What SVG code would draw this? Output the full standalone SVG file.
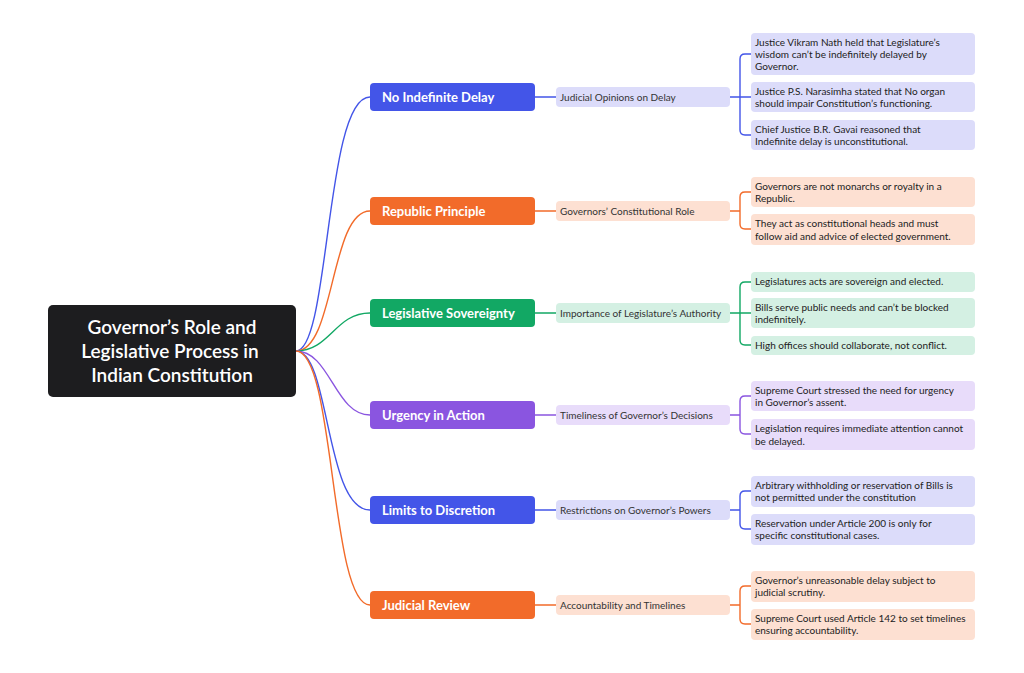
<svg xmlns="http://www.w3.org/2000/svg" width="1024" height="673" viewBox="0 0 1024 673">
<style>
text{font-family:Lato,"Open Sans",sans-serif}
.b{font-size:13px;font-weight:700;fill:#fff}
.m{font-size:10px;fill:#333}
.l{font-size:10px;fill:#222}
.c{fill:none;stroke-width:1.4}
.bl{stroke:#4355e8}.or{stroke:#f26b2a}.gr{stroke:#12a864}.pu{stroke:#8a55e0}
</style>
<rect width="1024" height="673" fill="#fff"/>
<g id="connectors">
<path class="c bl" d="M296 351 C330 351 325 97 370 97"/>
<path class="c or" d="M296 351 C335 351 330 211 370 211"/>
<path class="c gr" d="M296 351 C330 351 335 313 370 313"/>
<path class="c pu" d="M296 351 C330 351 335 415 370 415"/>
<path class="c bl" d="M296 351 C330 351 325 510 370 510"/>
<path class="c or" d="M296 351 C335 351 330 605 370 605"/>
<path class="c bl" d="M535 97H556M730 97H740M751 54H745Q740 54 740 59V130Q740 135 745 135H751M740 97H751"/>
<path class="c or" d="M535 211H556M730 211H740M751 192H745Q740 192 740 197V224Q740 229 745 229H751"/>
<path class="c gr" d="M535 313H556M730 313H740M751 282H745Q740 282 740 287V340Q740 345 745 345H751M740 313H751"/>
<path class="c pu" d="M535 415H556M730 415H740M751 396H745Q740 396 740 401V429Q740 434 745 434H751"/>
<path class="c bl" d="M535 510H556M730 510H740M751 491H745Q740 491 740 496V524Q740 529 745 529H751"/>
<path class="c or" d="M535 605H556M730 605H740M751 586H745Q740 586 740 591V619Q740 624 745 624H751"/>
</g>
<g id="root"><rect x="48" y="305" width="248" height="92" rx="5" fill="#1d1d1f"/>
<text x="172" y="334" font-size="19" font-weight="600" fill="#fff" text-anchor="middle">Governor’s Role and</text>
<text x="170" y="358" font-size="19" font-weight="600" fill="#fff" text-anchor="middle">Legislative Process in</text>
<text x="172" y="382" font-size="19" font-weight="600" fill="#fff" text-anchor="middle">Indian Constitution</text></g>

<g id="b1"><rect x="370" y="83" width="165" height="28" rx="4" fill="#4355e8"/><text class="b" x="382" y="102">No Indefinite Delay</text></g>
<g id="m1"><rect x="556" y="87" width="174" height="20" rx="4" fill="#dcdcfa"/><text class="m" x="560" y="101">Judicial Opinions on Delay</text></g>
<g id="l1a"><rect x="751" y="33" width="224" height="42" rx="4" fill="#dcdcfa"/><text class="l" x="755" y="46">Justice Vikram Nath held that  Legislature’s</text><text class="l" x="755" y="58">wisdom can’t be indefinitely delayed by</text><text class="l" x="755" y="70">Governor.</text></g>
<g id="l1b"><rect x="751" y="82" width="224" height="30" rx="4" fill="#dcdcfa"/><text class="l" x="755" y="95">Justice P.S. Narasimha stated that No organ</text><text class="l" x="755" y="107">should impair Constitution’s functioning.</text></g>
<g id="l1c"><rect x="751" y="120" width="224" height="30" rx="4" fill="#dcdcfa"/><text class="l" x="755" y="133">Chief Justice B.R. Gavai reasoned that</text><text class="l" x="755" y="145">Indefinite delay is unconstitutional.</text></g>

<g id="b2"><rect x="370" y="197" width="165" height="28" rx="4" fill="#f26b2a"/><text class="b" x="382" y="216">Republic Principle</text></g>
<g id="m2"><rect x="556" y="201" width="174" height="20" rx="4" fill="#fde0d2"/><text class="m" x="560" y="215">Governors’ Constitutional Role</text></g>
<g id="l2a"><rect x="751" y="177" width="224" height="30" rx="4" fill="#fde0d2"/><text class="l" x="755" y="190">Governors are not monarchs or royalty in a</text><text class="l" x="755" y="202">Republic.</text></g>
<g id="l2b"><rect x="751" y="214" width="224" height="31" rx="4" fill="#fde0d2"/><text class="l" x="755" y="227">They act as constitutional heads and must</text><text class="l" x="755" y="240">follow aid and advice of elected government.</text></g>

<g id="b3"><rect x="370" y="299" width="165" height="28" rx="4" fill="#12a864"/><text class="b" x="382" y="318">Legislative Sovereignty</text></g>
<g id="m3"><rect x="556" y="303" width="174" height="20" rx="4" fill="#d4f0e3"/><text class="m" x="560" y="317">Importance of Legislature’s Authority</text></g>
<g id="l3a"><rect x="751" y="272" width="224" height="20" rx="4" fill="#d4f0e3"/><text class="l" x="755" y="285">Legislatures acts are sovereign and elected.</text></g>
<g id="l3b"><rect x="751" y="298" width="224" height="30" rx="4" fill="#d4f0e3"/><text class="l" x="755" y="311">Bills serve public needs and can’t be blocked</text><text class="l" x="755" y="323">indefinitely.</text></g>
<g id="l3c"><rect x="751" y="336" width="224" height="19" rx="4" fill="#d4f0e3"/><text class="l" x="755" y="349">High offices should collaborate, not conflict.</text></g>

<g id="b4"><rect x="370" y="401" width="165" height="28" rx="4" fill="#8a55e0"/><text class="b" x="382" y="420">Urgency in Action</text></g>
<g id="m4"><rect x="556" y="405" width="174" height="20" rx="4" fill="#e8dcfa"/><text class="m" x="560" y="419">Timeliness of Governor’s Decisions</text></g>
<g id="l4a"><rect x="751" y="381" width="224" height="30" rx="4" fill="#e8dcfa"/><text class="l" x="755" y="394">Supreme Court stressed the need for urgency</text><text class="l" x="755" y="406">in Governor’s assent.</text></g>
<g id="l4b"><rect x="751" y="419" width="224" height="31" rx="4" fill="#e8dcfa"/><text class="l" x="755" y="432">Legislation requires immediate attention cannot</text><text class="l" x="755" y="445">be delayed.</text></g>

<g id="b5"><rect x="370" y="496" width="165" height="28" rx="4" fill="#4355e8"/><text class="b" x="382" y="515">Limits to Discretion</text></g>
<g id="m5"><rect x="556" y="500" width="174" height="20" rx="4" fill="#dcdcfa"/><text class="m" x="560" y="514">Restrictions on Governor’s Powers</text></g>
<g id="l5a"><rect x="751" y="476" width="224" height="31" rx="4" fill="#dcdcfa"/><text class="l" x="755" y="489">Arbitrary withholding or reservation of Bills is</text><text class="l" x="755" y="501">not permitted under the constitution</text></g>
<g id="l5b"><rect x="751" y="514" width="224" height="31" rx="4" fill="#dcdcfa"/><text class="l" x="755" y="527">Reservation under Article 200 is only for</text><text class="l" x="755" y="539">specific constitutional cases.</text></g>

<g id="b6"><rect x="370" y="591" width="165" height="28" rx="4" fill="#f26b2a"/><text class="b" x="382" y="610">Judicial Review</text></g>
<g id="m6"><rect x="556" y="595" width="174" height="20" rx="4" fill="#fde0d2"/><text class="m" x="560" y="609">Accountability and Timelines</text></g>
<g id="l6a"><rect x="751" y="571" width="224" height="31" rx="4" fill="#fde0d2"/><text class="l" x="755" y="584">Governor’s unreasonable delay subject to</text><text class="l" x="755" y="596">judicial scrutiny.</text></g>
<g id="l6b"><rect x="751" y="609" width="224" height="31" rx="4" fill="#fde0d2"/><text class="l" x="755" y="622">Supreme Court used Article 142 to set timelines</text><text class="l" x="755" y="634">ensuring accountability.</text></g>
</svg>
